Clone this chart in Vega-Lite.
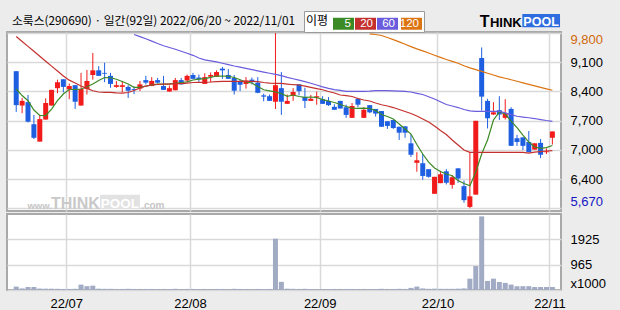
{
"$schema": "https://vega.github.io/schema/vega-lite/v6.json",
"background": "#ececec",
"padding": {"left": 6, "top": 10, "right": 20, "bottom": 2},
"spacing": 0,
"config": {
  "view": {"fill": "white", "stroke": "#a9a9a9", "strokeWidth": 2},
  "axis": {"labelFont": "Liberation Sans", "labelFontSize": 13, "labelColor": "#000000", "gridColor": "#d9d9d9", "gridWidth": 1.5, "ticks": false, "domain": false, "labelOverlap": false}
},
"resolve": {"scale": {"color": "shared"}, "legend": {"color": "shared"}},
"datasets": {"candles": [
{"i":0,"o":8900,"h":8900,"l":7940,"c":8100,"v":130,"m5":8480,"m20":9718},
{"i":1,"o":8090,"h":8270,"l":7910,"c":8200,"v":60,"m5":8326,"m20":9602},
{"i":2,"o":8170,"h":8340,"l":7690,"c":7710,"v":115,"m5":8204,"m20":9486},
{"i":3,"o":7650,"h":7870,"l":7300,"c":7330,"v":115,"m5":7984,"m20":9369},
{"i":4,"o":7240,"h":7870,"l":7240,"c":7770,"v":55,"m5":7859,"m20":9253},
{"i":5,"o":7760,"h":8260,"l":7760,"c":8150,"v":50,"m5":7855,"m20":9135},
{"i":6,"o":8090,"h":8460,"l":8090,"c":8460,"v":50,"m5":8008,"m20":9020},
{"i":7,"o":8500,"h":8700,"l":8380,"c":8640,"v":45,"m5":8204,"m20":8904},
{"i":8,"o":8710,"h":8710,"l":8400,"c":8530,"v":40,"m5":8362,"m20":8786},
{"i":9,"o":8470,"h":8610,"l":8240,"c":8550,"v":40,"m5":8468,"m20":8689},
{"i":10,"o":8570,"h":8570,"l":8010,"c":8180,"v":45,"m5":8472,"m20":8621},
{"i":11,"o":8090,"h":8860,"l":8090,"c":8480,"v":205,"m5":8480,"m20":8550},
{"i":12,"o":8480,"h":8930,"l":8350,"c":8670,"v":145,"m5":8534,"m20":8496},
{"i":13,"o":8810,"h":9330,"l":8700,"c":8920,"v":165,"m5":8597,"m20":8439},
{"i":14,"o":8920,"h":9020,"l":8790,"c":8790,"v":50,"m5":8680,"m20":8409},
{"i":15,"o":8860,"h":9100,"l":8640,"c":8840,"v":45,"m5":8751,"m20":8402},
{"i":16,"o":8790,"h":8860,"l":8510,"c":8600,"v":45,"m5":8746,"m20":8402},
{"i":17,"o":8530,"h":8670,"l":8510,"c":8570,"v":40,"m5":8711,"m20":8390},
{"i":18,"o":8530,"h":8670,"l":8400,"c":8570,"v":40,"m5":8656,"m20":8385},
{"i":19,"o":8530,"h":8570,"l":8270,"c":8440,"v":45,"m5":8597,"m20":8397},
{"i":20,"o":8480,"h":8540,"l":8360,"c":8460,"v":40,"m5":8520,"m20":8444,"m60":9765},
{"i":21,"o":8490,"h":8670,"l":8430,"c":8590,"v":40,"m5":8520,"m20":8503,"m60":9715},
{"i":22,"o":8690,"h":8790,"l":8590,"c":8630,"v":40,"m5":8546,"m20":8550,"m60":9666},
{"i":23,"o":8550,"h":8760,"l":8550,"c":8670,"v":40,"m5":8579,"m20":8574,"m60":9609},
{"i":24,"o":8690,"h":8740,"l":8610,"c":8630,"v":35,"m5":8597,"m20":8586,"m60":9552},
{"i":25,"o":8550,"h":8790,"l":8460,"c":8460,"v":40,"m5":8597,"m20":8597,"m60":9501},
{"i":26,"o":8420,"h":8560,"l":8420,"c":8500,"v":35,"m5":8602,"m20":8597,"m60":9458},
{"i":27,"o":8450,"h":8740,"l":8450,"c":8690,"v":45,"m5":8616,"m20":8609,"m60":9418},
{"i":28,"o":8690,"h":8740,"l":8590,"c":8590,"v":35,"m5":8633,"m20":8609,"m60":9371},
{"i":29,"o":8680,"h":8820,"l":8650,"c":8790,"v":40,"m5":8649,"m20":8621,"m60":9324},
{"i":30,"o":8810,"h":8860,"l":8720,"c":8720,"v":40,"m5":8692,"m20":8633,"m60":9274},
{"i":31,"o":8750,"h":8820,"l":8650,"c":8710,"v":35,"m5":8711,"m20":8638,"m60":9210},
{"i":32,"o":8600,"h":8850,"l":8600,"c":8760,"v":40,"m5":8727,"m20":8638,"m60":9166},
{"i":33,"o":8770,"h":8870,"l":8640,"c":8810,"v":35,"m5":8755,"m20":8645,"m60":9142},
{"i":34,"o":8770,"h":8920,"l":8770,"c":8880,"v":40,"m5":8786,"m20":8656,"m60":9119},
{"i":35,"o":8960,"h":9000,"l":8720,"c":8920,"v":40,"m5":8786,"m20":8661,"m60":9088},
{"i":36,"o":8810,"h":8950,"l":8720,"c":8720,"v":35,"m5":8781,"m20":8661,"m60":9055},
{"i":37,"o":8740,"h":8810,"l":8350,"c":8440,"v":45,"m5":8751,"m20":8661,"m60":9022},
{"i":38,"o":8660,"h":8700,"l":8430,"c":8580,"v":40,"m5":8699,"m20":8661,"m60":8994},
{"i":39,"o":8600,"h":8760,"l":8490,"c":8680,"v":35,"m5":8645,"m20":8661,"m60":8965},
{"i":40,"o":8700,"h":8750,"l":8590,"c":8640,"v":35,"m5":8621,"m20":8661,"m60":8937},
{"i":41,"o":8630,"h":8760,"l":8380,"c":8390,"v":40,"m5":8538,"m20":8656,"m60":8909},
{"i":42,"o":8330,"h":8370,"l":8190,"c":8300,"v":35,"m5":8463,"m20":8633,"m60":8880},
{"i":43,"o":8310,"h":8350,"l":8200,"c":8200,"v":40,"m5":8437,"m20":8621,"m60":8852},
{"i":44,"o":8180,"h":9800,"l":8010,"c":8570,"v":1950,"m5":8409,"m20":8614,"m60":8826},
{"i":45,"o":8500,"h":8880,"l":7870,"c":8180,"v":310,"m5":8373,"m20":8614,"m60":8795},
{"i":46,"o":8130,"h":8350,"l":8130,"c":8200,"v":50,"m5":8307,"m20":8597,"m60":8755},
{"i":47,"o":8320,"h":8500,"l":8200,"c":8410,"v":45,"m5":8338,"m20":8581,"m60":8722},
{"i":48,"o":8590,"h":8590,"l":8330,"c":8430,"v":40,"m5":8303,"m20":8574,"m60":8689},
{"i":49,"o":8290,"h":8510,"l":8030,"c":8200,"v":45,"m5":8284,"m20":8550,"m60":8654},
{"i":50,"o":8200,"h":8340,"l":8200,"c":8250,"v":35,"m5":8291,"m20":8520,"m60":8616},
{"i":51,"o":8280,"h":8420,"l":8110,"c":8310,"v":35,"m5":8279,"m20":8491,"m60":8574},
{"i":52,"o":8240,"h":8310,"l":8130,"c":8130,"v":35,"m5":8230,"m20":8463,"m60":8531},
{"i":53,"o":8200,"h":8290,"l":8080,"c":8100,"v":35,"m5":8197,"m20":8421,"m60":8496},
{"i":54,"o":8060,"h":8120,"l":7990,"c":7990,"v":40,"m5":8161,"m20":8385,"m60":8465},
{"i":55,"o":8200,"h":8200,"l":8020,"c":8020,"v":40,"m5":8114,"m20":8338,"m60":8449},
{"i":56,"o":8050,"h":8110,"l":7800,"c":7870,"v":40,"m5":8067,"m20":8322,"m60":8425},
{"i":57,"o":7800,"h":8150,"l":7800,"c":8080,"v":40,"m5":8031,"m20":8303,"m60":8425},
{"i":58,"o":8250,"h":8270,"l":8050,"c":8110,"v":35,"m5":8024,"m20":8256,"m60":8425},
{"i":59,"o":7800,"h":8050,"l":7800,"c":7990,"v":40,"m5":8031,"m20":8220,"m60":8425},
{"i":60,"o":8100,"h":8100,"l":7910,"c":7930,"v":35,"m5":8020,"m20":8197,"m60":8430,"m120":9781},
{"i":61,"o":8010,"h":8010,"l":7830,"c":7900,"v":35,"m5":7973,"m20":8149,"m60":8440,"m120":9765},
{"i":62,"o":7960,"h":7960,"l":7590,"c":7590,"v":45,"m5":7878,"m20":8109,"m60":8440,"m120":9741},
{"i":63,"o":7720,"h":7720,"l":7540,"c":7610,"v":40,"m5":7831,"m20":8079,"m60":8440,"m120":9694},
{"i":64,"o":7750,"h":7750,"l":7540,"c":7560,"v":40,"m5":7772,"m20":8043,"m60":8435,"m120":9644},
{"i":65,"o":7590,"h":7590,"l":7280,"c":7450,"v":45,"m5":7654,"m20":7996,"m60":8430,"m120":9592},
{"i":66,"o":7600,"h":7600,"l":7330,"c":7450,"v":40,"m5":7536,"m20":7949,"m60":8425,"m120":9536},
{"i":67,"o":7200,"h":7410,"l":6880,"c":6930,"v":80,"m5":7418,"m20":7902,"m60":8409,"m120":9479},
{"i":68,"o":6740,"h":6990,"l":6530,"c":6800,"v":130,"m5":7171,"m20":7843,"m60":8378,"m120":9425},
{"i":69,"o":6730,"h":6950,"l":6340,"c":6430,"v":60,"m5":6947,"m20":7772,"m60":8350,"m120":9378},
{"i":70,"o":6590,"h":6590,"l":6390,"c":6410,"v":45,"m5":6758,"m20":7701,"m60":8298,"m120":9328},
{"i":71,"o":6010,"h":6410,"l":6010,"c":6410,"v":50,"m5":6617,"m20":7607,"m60":8244,"m120":9277},
{"i":72,"o":6260,"h":6550,"l":6260,"c":6470,"v":45,"m5":6534,"m20":7501,"m60":8178,"m120":9227},
{"i":73,"o":6540,"h":6590,"l":6230,"c":6270,"v":45,"m5":6475,"m20":7407,"m60":8114,"m120":9175},
{"i":74,"o":6220,"h":6450,"l":6130,"c":6400,"v":45,"m5":6435,"m20":7277,"m60":8079,"m120":9133},
{"i":75,"o":6610,"h":6610,"l":6270,"c":6370,"v":50,"m5":6322,"m20":7159,"m60":8043,"m120":9088},
{"i":76,"o":6190,"h":6320,"l":5800,"c":5860,"v":60,"m5":6251,"m20":7041,"m60":7996,"m120":9027},
{"i":77,"o":5700,"h":6990,"l":5670,"c":5950,"v":430,"m5":6199,"m20":6987,"m60":7963,"m120":8979},
{"i":78,"o":5990,"h":7730,"l":5990,"c":7730,"v":910,"m5":6522,"m20":6987,"m60":7954,"m120":8937},
{"i":79,"o":9210,"h":9460,"l":7970,"c":8300,"v":2800,"m5":6947,"m20":6987,"m60":7954,"m120":8895},
{"i":80,"o":8200,"h":8250,"l":7550,"c":7790,"v":345,"m5":7277,"m20":6987,"m60":7954,"m120":8852},
{"i":81,"o":7880,"h":8170,"l":7870,"c":7930,"v":430,"m5":7749,"m20":6987,"m60":7954,"m120":8810},
{"i":82,"o":7980,"h":8310,"l":7750,"c":7880,"v":305,"m5":7937,"m20":6987,"m60":7954,"m120":8767},
{"i":83,"o":7800,"h":8240,"l":7760,"c":7910,"v":270,"m5":7890,"m20":6987,"m60":7918,"m120":8734},
{"i":84,"o":8010,"h":8050,"l":7140,"c":7140,"v":205,"m5":7725,"m20":6987,"m60":7876,"m120":8699},
{"i":85,"o":7320,"h":7400,"l":7140,"c":7230,"v":145,"m5":7572,"m20":6987,"m60":7838,"m120":8663},
{"i":86,"o":7340,"h":7340,"l":7040,"c":7140,"v":145,"m5":7395,"m20":6987,"m60":7819,"m120":8626},
{"i":87,"o":7230,"h":7490,"l":6990,"c":6990,"v":145,"m5":7230,"m20":6970,"m60":7803,"m120":8588},
{"i":88,"o":7050,"h":7200,"l":7050,"c":7200,"v":115,"m5":7112,"m20":6994,"m60":7784,"m120":8553},
{"i":89,"o":7210,"h":7300,"l":6850,"c":6930,"v":115,"m5":7081,"m20":7006,"m60":7760,"m120":8517},
{"i":90,"o":6990,"h":7080,"l":6950,"c":7010,"v":115,"m5":7100,"m20":7018,"m60":7737,"m120":8484},
{"i":91,"o":7330,"h":7480,"l":7170,"c":7480,"v":115,"m5":7147,"m20":7029,"m60":7718,"m120":8451}
]},
"vconcat": [
{
  "width": 554, "height": 179,
  "layer": [
    {"data": {"values": [{}]}, "mark": {"type": "rect", "color": "#e2e2e2"},
     "encoding": {"x": {"datum": 14.23, "type": "quantitative"}, "x2": {"datum": 21.0}, "y": {"datum": 5987, "type": "quantitative"}, "y2": {"datum": 5650}}},
    {"data": {"values": [{}]}, "mark": {"type": "text", "text": "www.", "align": "left", "baseline": "alphabetic", "font": "Liberation Sans", "fontWeight": "bold", "fontSize": 9.5, "color": "#c6c6c6"},
     "encoding": {"x": {"datum": 1.9, "type": "quantitative"}, "y": {"datum": 5662, "type": "quantitative"}}},
    {"data": {"values": [{}]}, "mark": {"type": "text", "text": "THINK", "align": "left", "baseline": "alphabetic", "font": "Liberation Sans", "fontWeight": "bold", "fontSize": 16, "color": "#c9c9c9"},
     "encoding": {"x": {"datum": 5.9, "type": "quantitative"}, "y": {"datum": 5662, "type": "quantitative"}}},
    {"data": {"values": [{}]}, "mark": {"type": "text", "text": "POOL", "align": "center", "baseline": "alphabetic", "font": "Liberation Sans", "fontWeight": "bold", "fontSize": 13.5, "color": "#ffffff"},
     "encoding": {"x": {"datum": 17.6, "type": "quantitative"}, "y": {"datum": 5668, "type": "quantitative"}}},
    {"data": {"values": [{}]}, "mark": {"type": "text", "text": ".com", "align": "left", "baseline": "alphabetic", "font": "Liberation Sans", "fontWeight": "bold", "fontSize": 10, "color": "#c6c6c6"},
     "encoding": {"x": {"datum": 21.2, "type": "quantitative"}, "y": {"datum": 5662, "type": "quantitative"}}},
    {"data": {"name": "candles"},
     "mark": {"type": "rule", "strokeWidth": 1},
     "encoding": {
       "x": {"field": "i", "type": "quantitative", "title": null, "scale": {"domain": [-0.717, 91.617], "nice": false, "zero": false},
         "axis": {"orient": "bottom", "values": [8.5, 29.5, 51.5, 71.5, 90.5], "labels": false, "grid": true}},
       "y": {"field": "l", "type": "quantitative", "title": null, "scale": {"domain": [5604, 9824], "nice": false, "zero": false},
         "axis": {"orient": "right", "values": [5670, 6358.33, 7046.67, 7735, 8423.33, 9111.67, 9800],
           "labelExpr": "datum.value < 5700 ? '5,670' : format(round(datum.value / 100) * 100, ',')",
           "grid": true, "labelPadding": 9, "labelFlush": 4, "labelOverlap": false, "tickCount": 7,
           "labelColor": {"condition": [{"test": "datum.value > 9700", "value": "#d2690a"}, {"test": "datum.value < 5700", "value": "#1414c4"}], "value": "#000000"}}},
       "y2": {"field": "h"},
       "color": {"condition": {"test": "datum.c >= datum.o", "value": "#f21b1b"}, "value": "#1e5fe2"}
     }},
    {"data": {"name": "candles"},
     "mark": {"type": "bar", "size": 5},
     "encoding": {
       "x": {"field": "i", "type": "quantitative", "title": null},
       "y": {"field": "o", "type": "quantitative", "title": null},
       "y2": {"field": "c"},
       "color": {"condition": {"test": "datum.c >= datum.o", "value": "#f21b1b"}, "value": "#1e5fe2"}
     }},
    {"data": {"name": "candles"},
     "transform": [{"fold": ["m5", "m20", "m60", "m120"], "as": ["key", "value"]}],
     "mark": {"type": "line", "strokeWidth": 1.2, "clip": true},
     "encoding": {
       "x": {"field": "i", "type": "quantitative", "title": null},
       "y": {"field": "value", "type": "quantitative", "title": null},
       "color": {"field": "key", "type": "nominal",
         "scale": {"domain": ["m5", "m20", "m60", "m120"], "range": ["#3c8a25", "#c4302d", "#6a5cdc", "#dc7412"]},
         "legend": {"title": "이평", "orient": "none", "legendX": 297, "legendY": -21, "direction": "horizontal",
           "titleOrient": "left", "titleFont": "Noto Sans CJK KR", "titleFontSize": 12, "titleFontWeight": "normal", "titleColor": "#000000", "titlePadding": 4,
           "symbolType": "M-1,-0.57H1V0.57H-1Z", "symbolSize": 441, "symbolStrokeWidth": 0,
           "labelAlign": "right", "labelOffset": -3, "labelColor": "#ffffff", "labelFont": "Liberation Sans", "labelFontSize": 11.5,
           "labelExpr": "replace(datum.label, 'm', '')",
           "columnPadding": 1, "padding": 2, "strokeColor": "#9a9a9a", "fillColor": "#ffffff",
           "encode": {"symbols": {"update": {"fill": {"scale": "color", "field": "value"}, "stroke": {"value": "transparent"}, "opacity": {"value": 1}}}}}
       }
     }},
    {"data": {"values": [{}]}, "mark": {"type": "text", "text": "소룩스(290690) · 일간(92일) 2022/06/20 ~ 2022/11/01", "align": "left", "baseline": "middle", "font": "Noto Sans CJK KR", "fontSize": 11.8, "color": "#000000"},
     "encoding": {"x": {"datum": -0.72, "type": "quantitative"}, "y": {"datum": 10095, "type": "quantitative"}}},
    {"data": {"values": [{}]}, "mark": {"type": "rect", "color": "#2d6de0"},
     "encoding": {"x": {"datum": 85.9, "type": "quantitative"}, "x2": {"datum": 92.3}, "y": {"datum": 10248, "type": "quantitative"}, "y2": {"datum": 9934}}},
    {"data": {"values": [{}]}, "mark": {"type": "text", "text": "T", "align": "right", "baseline": "alphabetic", "font": "Liberation Sans", "fontWeight": "bold", "fontSize": 16, "color": "#000000"},
     "encoding": {"x": {"datum": 80.33, "type": "quantitative"}, "y": {"datum": 9949, "type": "quantitative"}}},
    {"data": {"values": [{}]}, "mark": {"type": "text", "text": "HINK", "align": "left", "baseline": "alphabetic", "font": "Liberation Sans", "fontWeight": "bold", "fontSize": 13, "color": "#000000"},
     "encoding": {"x": {"datum": 80.4, "type": "quantitative"}, "y": {"datum": 9949, "type": "quantitative"}}},
    {"data": {"values": [{}]}, "mark": {"type": "text", "text": "POOL", "align": "center", "baseline": "alphabetic", "font": "Liberation Sans", "fontWeight": "bold", "fontSize": 12.5, "color": "#ffffff"},
     "encoding": {"x": {"datum": 89.08, "type": "quantitative"}, "y": {"datum": 9955, "type": "quantitative"}}}
  ]
},
{
  "width": 554, "height": 76,
  "data": {"name": "candles"},
  "mark": {"type": "bar", "size": 5, "color": "#a2abc4"},
  "encoding": {
    "x": {"field": "i", "type": "quantitative", "title": null, "scale": {"domain": [-0.717, 91.617], "nice": false, "zero": false},
      "axis": {"orient": "bottom", "values": [8.5, 29.5, 51.5, 71.5, 90.5], "grid": true, "labelPadding": 7, "labelFlush": false, "labelAngle": 0,
        "labelExpr": "datum.value < 10 ? '22/07' : datum.value < 30 ? '22/08' : datum.value < 52 ? '22/09' : datum.value < 72 ? '22/10' : '22/11'"}},
    "y": {"field": "v", "type": "quantitative", "title": null, "scale": {"domain": [0, 2890], "nice": false},
      "axis": {"orient": "right", "values": [0, 965, 1925], "grid": true, "labelPadding": 9, "labelFlush": 4,
        "labelExpr": "datum.value == 0 ? 'x1000' : '' + datum.value"}}
  }
}
]
}
